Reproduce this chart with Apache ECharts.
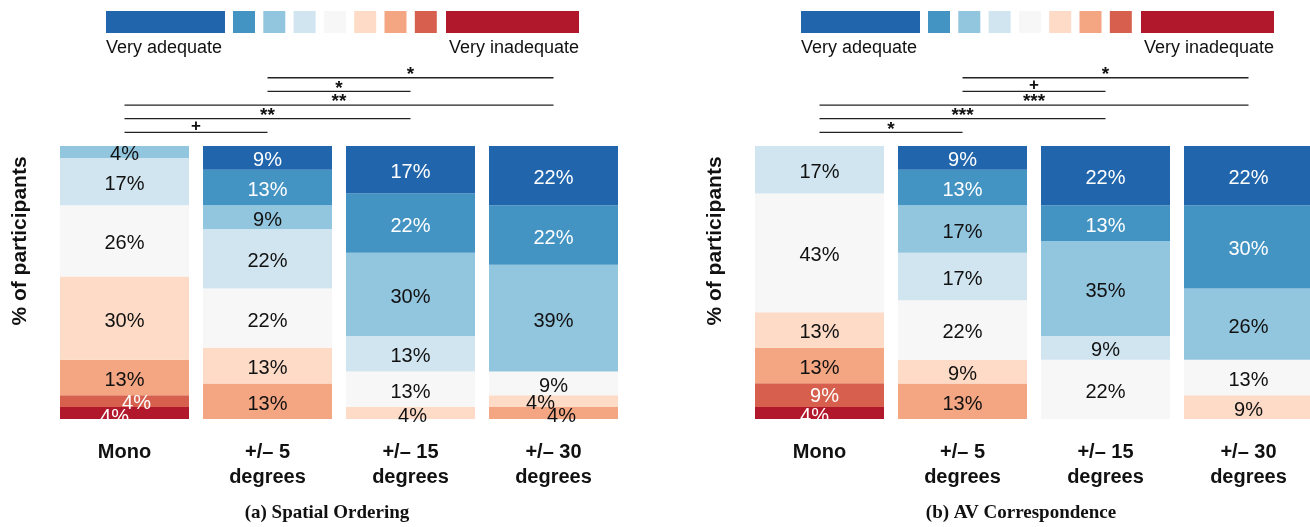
<!DOCTYPE html>
<html>
<head>
<meta charset="utf-8">
<script src="https://cdn.jsdelivr.net/npm/echarts@6/dist/echarts.min.js"></script>
<style>
  html, body { margin: 0; padding: 0; background: #fff; overflow: hidden; }
  /* a bit wider than the window: the last bar of panel (b) runs off the right edge */
  #chart { width: 1330px; height: 527px; }
</style>
</head>
<body>
<div id="chart"></div>
<script>
// x categories, same for both panels
const categories = ['Mono', '+/– 5\ndegrees', '+/– 15\ndegrees', '+/– 30\ndegrees']

// answer levels, bottom of the stack (very inadequate) to top (very adequate)
const levelColors = ['#b2182b', '#d6604d', '#f4a582', '#fddbc7', '#f7f7f7', '#d1e5f0', '#92c5de', '#4393c3', '#2166ac']

// % of participants, one row per level (same order as levelColors), columns = categories
// (a) Spatial Ordering
const spatialValues = [
  [4.35, 0, 0, 0],
  [4.35, 0, 0, 0],
  [13.04, 13.04, 0, 4.35],
  [30.43, 13.04, 4.35, 4.35],
  [26.09, 21.74, 13.04, 8.70],
  [17.39, 21.74, 13.04, 0],
  [4.35, 8.70, 30.43, 39.13],
  [0, 13.04, 21.74, 21.74],
  [0, 8.70, 17.39, 21.74]
]
// (b) AV Correspondence
const avValues = [
  [4.35, 0, 0, 0],
  [8.70, 0, 0, 0],
  [13.04, 13.04, 0, 0],
  [13.04, 8.70, 0, 8.70],
  [43.48, 21.74, 21.74, 13.04],
  [17.39, 17.39, 8.70, 0],
  [0, 17.39, 34.78, 26.09],
  [0, 13.04, 13.04, 30.43],
  [0, 8.70, 21.74, 21.74]
]

// significance brackets: [from category, to category, mark], lowest first
const spatialBrackets = [[0, 1, '+'], [0, 2, '**'], [0, 3, '**'], [1, 2, '*'], [1, 3, '*']]
const avBrackets = [[0, 1, '*'], [0, 2, '***'], [0, 3, '***'], [1, 2, '+'], [1, 3, '*']]

const captions = ['(a) Spatial Ordering', '(b) AV Correspondence']

const FONT = "'Liberation Sans', Arial, sans-serif"
const darkLevels = [0, 1, 7, 8]

// small shifts so the labels of thin slices don't sit on top of each other
const labelNudge = {
  'a0-0': [-10, 1], 'a0-1': [12, -1],
  'a2-3': [2, 0],
  'a3-2': [8, 0], 'a3-3': [-13, -1],
  'b0-0': [-5, 0], 'b0-1': [5, -2]
}

function barSeries(values, g, key) {
  return values.map((row, lvl) => ({
    type: 'bar',
    xAxisIndex: g,
    yAxisIndex: g,
    stack: 'panel' + g,
    barWidth: 129,
    silent: true,
    itemStyle: { color: levelColors[lvl] },
    label: {
      position: 'inside',
      fontFamily: FONT,
      fontSize: 20,
      color: darkLevels.includes(lvl) ? '#fff' : '#111',
      formatter: p => Math.round(p.value) + '%'
    },
    data: row.map((v, c) => {
      const n = labelNudge[key + c + '-' + lvl] || [0, 0]
      return { value: v, label: { show: v > 0, offset: [n[0], n[1] + 3] } }
    })
  }))
}

function bracketSeries(brackets, g) {
  return {
    type: 'custom',
    xAxisIndex: g,
    yAxisIndex: g,
    clip: false,
    silent: true,
    data: brackets.map((b, i) => [b[0], b[1], 105 + 5 * i]),
    encode: { x: [0, 1], y: 2 },
    renderItem: (params, api) => {
      const p1 = api.coord([api.value(0), api.value(2)])
      const p2 = api.coord([api.value(1), api.value(2)])
      const mark = brackets[params.dataIndex][2]
      const isPlus = mark === '+'
      return {
        type: 'group',
        children: [
          { type: 'line', shape: { x1: p1[0], y1: p1[1], x2: p2[0], y2: p2[1] },
            style: { stroke: '#222', lineWidth: 1.3 } },
          { type: 'text', x: (p1[0] + p2[0]) / 2, y: p1[1] - (isPlus ? 6 : 3),
            style: { text: mark, textAlign: 'center', textVerticalAlign: 'middle',
                     font: isPlus ? 'bold 17px ' + FONT : 'bold 19px ' + FONT, fill: '#111' } }
        ]
      }
    }
  }
}

// colour key above each panel
function legendGraphic(x0) {
  const items = []
  const order = levelColors.slice().reverse()
  order.forEach((c, i) => {
    let x, w
    if (i === 0) { x = x0; w = 119 }
    else if (i === order.length - 1) { x = x0 + 340; w = 133 }
    else { x = x0 + 127 + (i - 1) * 30.3; w = 22 }
    items.push({ type: 'rect', x: x, y: 11, shape: { width: w, height: 22 }, style: { fill: c } })
  })
  items.push({ type: 'text', x: x0, y: 48, style: { text: 'Very adequate', font: '18px ' + FONT, fill: '#111', textVerticalAlign: 'middle' } })
  items.push({ type: 'text', x: x0 + 473, y: 48, style: { text: 'Very inadequate', font: '18px ' + FONT, fill: '#111', textAlign: 'right', textVerticalAlign: 'middle' } })
  return items
}

function yTitle(x) {
  return { type: 'text', x: x, y: 241, rotation: Math.PI / 2,
           style: { text: '% of participants', font: 'bold 21px ' + FONT, fill: '#111', textAlign: 'center', textVerticalAlign: 'middle' } }
}

function caption(text, x) {
  return { type: 'text', x: x, y: 513,
           style: { text: text, font: 'bold 19px "Liberation Serif", serif', fill: '#111', textAlign: 'center', textVerticalAlign: 'middle' } }
}

const gridLefts = [53, 748]

const option = {
  animation: false,
  grid: gridLefts.map(l => ({ left: l, top: 146, width: 572, height: 273 })),
  xAxis: gridLefts.map((l, g) => ({
    type: 'category',
    gridIndex: g,
    data: categories,
    axisLine: { show: false },
    axisTick: { show: false },
    axisLabel: { fontFamily: FONT, fontSize: 20, fontWeight: 'bold', color: '#111', lineHeight: 25, margin: 21 }
  })),
  yAxis: gridLefts.map((l, g) => ({
    type: 'value',
    gridIndex: g,
    min: 0,
    max: 100,
    axisLine: { show: false },
    axisTick: { show: false },
    axisLabel: { show: false },
    splitLine: { show: false }
  })),
  graphic: [
    ...legendGraphic(106),
    ...legendGraphic(801),
    yTitle(20),
    yTitle(715),
    caption(captions[0], 327),
    caption(captions[1], 1021)
  ],
  series: [
    ...barSeries(spatialValues, 0, 'a'),
    ...barSeries(avValues, 1, 'b'),
    bracketSeries(spatialBrackets, 0),
    bracketSeries(avBrackets, 1)
  ]
}

const chart = echarts.init(document.getElementById('chart'))
chart.setOption(option)
</script>
</body>
</html>
